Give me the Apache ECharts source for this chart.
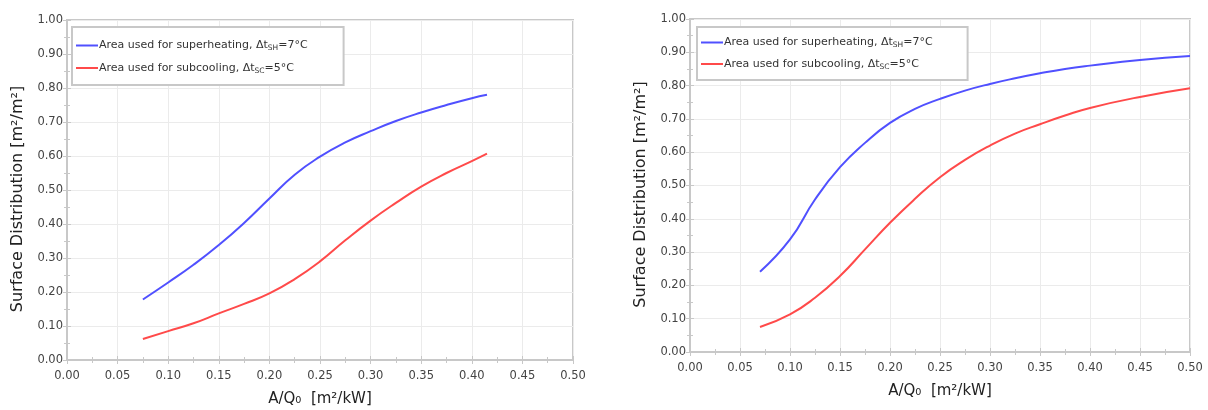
<!DOCTYPE html>
<html>
<head>
<meta charset="utf-8">
<script src="https://cdn.jsdelivr.net/npm/echarts@6/dist/echarts.min.js"></script>
<style>
  html, body { margin: 0; padding: 0; background: #fff; }
  #main { width: 1208px; height: 410px; }
</style>
</head>
<body>
<div id="main"></div>
<script>
// left chart
const xLeft = [0.075, 0.10, 0.125, 0.15, 0.175, 0.20, 0.225, 0.25, 0.275, 0.30, 0.325, 0.35, 0.375, 0.40, 0.415]
const shLeft = [0.178, 0.228, 0.280, 0.338, 0.403, 0.475, 0.545, 0.598, 0.640, 0.673, 0.703, 0.728, 0.750, 0.770, 0.780]
const scLeft = [0.062, 0.085, 0.108, 0.137, 0.165, 0.196, 0.238, 0.290, 0.352, 0.410, 0.462, 0.510, 0.550, 0.585, 0.607]

// right chart
const xRight = [0.07, 0.10, 0.125, 0.15, 0.175, 0.20, 0.225, 0.25, 0.275, 0.30, 0.325, 0.35, 0.375, 0.40, 0.45, 0.50]
const shRight = [0.241, 0.338, 0.458, 0.555, 0.628, 0.688, 0.730, 0.760, 0.785, 0.805, 0.822, 0.837, 0.850, 0.860, 0.877, 0.889]
const scRight = [0.075, 0.113, 0.163, 0.228, 0.308, 0.388, 0.460, 0.525, 0.577, 0.620, 0.656, 0.684, 0.710, 0.733, 0.766, 0.792]

const xTicks = [0, 0.05, 0.10, 0.15, 0.20, 0.25, 0.30, 0.35, 0.40, 0.45, 0.50]
const yTicks = [0, 0.1, 0.2, 0.3, 0.4, 0.5, 0.6, 0.7, 0.8, 0.9, 1.0]

const nameSH = 'Area used for superheating, Δt{sub|SH}=7°C'
const nameSC = 'Area used for subcooling, Δt{sub|SC}=5°C'
const blue = '#5050ff'
const red = '#ff4a4a'
const frame = '#c8c8c8'

const font = 'DejaVu Sans, Liberation Sans, sans-serif'

function pairs(xs, ys) {
  return xs.map((x, i) => [x, ys[i]])
}

function tickAxis(gridIndex, ticks, position) {
  // plain frame axis on top / right, ticks only
  return {
    gridIndex: gridIndex,
    type: 'value',
    position: position,
    min: ticks[0], max: ticks[ticks.length - 1], interval: ticks[1] - ticks[0],
    axisLine: { show: true, lineStyle: { color: frame, width: 2 } },
    axisTick: { show: true, inside: true, length: 4, lineStyle: { color: frame } },
    minorTick: { show: true, splitNumber: 2, length: 3, lineStyle: { color: frame } },
    axisLabel: { show: false },
    splitLine: { show: false }
  }
}

function xAxis(gridIndex) {
  return {
    gridIndex: gridIndex,
    type: 'value',
    min: xTicks[0], max: xTicks[xTicks.length - 1], interval: 0.05,
    name: 'A/Q₀  [m²/kW]',
    nameLocation: 'middle',
    nameGap: 32,
    nameTextStyle: { fontFamily: font, fontSize: 15, color: '#222' },
    axisLine: { lineStyle: { color: frame, width: 2 } },
    axisTick: { show: true, inside: true, length: 4, lineStyle: { color: frame } },
    minorTick: { show: true, splitNumber: 2, length: 3, lineStyle: { color: frame } },
    axisLabel: { fontFamily: font, fontSize: 11.5, color: '#444', margin: 10, formatter: v => v.toFixed(2) },
    splitLine: { show: true, lineStyle: { color: '#ebebeb', width: 1 } }
  }
}

function yAxis(gridIndex) {
  return {
    gridIndex: gridIndex,
    type: 'value',
    min: yTicks[0], max: yTicks[yTicks.length - 1], interval: 0.1,
    name: 'Surface Distribution [m²/m²]',
    nameLocation: 'middle',
    nameGap: 41,
    nameTextStyle: { fontFamily: font, fontSize: 16, color: '#222', padding: [0, 18, 0, 0] },
    axisLine: { show: true, lineStyle: { color: frame, width: 2 } },
    axisTick: { show: true, inside: true, length: 4, lineStyle: { color: frame } },
    minorTick: { show: true, splitNumber: 2, length: 3, lineStyle: { color: frame } },
    axisLabel: { fontFamily: font, fontSize: 11.5, color: '#444', margin: 4, formatter: v => v.toFixed(2) },
    splitLine: { show: true, lineStyle: { color: '#ebebeb', width: 1 } }
  }
}

function legend(left, top, names, padding, gap) {
  return {
    left: left, top: top,
    orient: 'vertical',
    data: names,
    icon: 'rect',
    itemWidth: 22, itemHeight: 2,
    itemGap: gap,
    padding: padding,
    borderColor: frame, borderWidth: 2,
    backgroundColor: '#fff',
    textStyle: {
      fontFamily: font, fontSize: 11, color: '#333', padding: [0, 0, 0, -4],
      rich: { sub: { fontFamily: font, fontSize: 7.5, color: '#333', padding: [6, 0, 0, 0] } }
    },
    formatter: n => n.replace(/ #\d$/, '')
  }
}

let myEcharts = echarts.init(document.getElementById('main'))
myEcharts.setOption({
  backgroundColor: '#fff',
  animation: false,
  grid: [
    { left: 67, top: 20, width: 506, height: 340, outerBoundsMode: 'none', show: true, borderColor: frame, borderWidth: 2, backgroundColor: '#fff' },
    { left: 690, top: 19, width: 500, height: 333, outerBoundsMode: 'none', show: true, borderColor: frame, borderWidth: 2, backgroundColor: '#fff' }
  ],
  xAxis: [xAxis(0), xAxis(1), tickAxis(0, xTicks, 'top'), tickAxis(1, xTicks, 'top')],
  yAxis: [yAxis(0), yAxis(1), tickAxis(0, yTicks, 'right'), tickAxis(1, yTicks, 'right')],
  legend: [
    legend(72, 27, [nameSH, nameSC], [13, 36, 10, 4], 10),
    legend(697, 27, [nameSH + ' #2', nameSC + ' #2'], [10, 35, 9, 4], 9)
  ],
  series: [
    { name: nameSH, type: 'line', xAxisIndex: 0, yAxisIndex: 0, smooth: true, symbol: 'none',
      data: pairs(xLeft, shLeft), lineStyle: { color: blue, width: 2 }, itemStyle: { color: blue } },
    { name: nameSC, type: 'line', xAxisIndex: 0, yAxisIndex: 0, smooth: true, symbol: 'none',
      data: pairs(xLeft, scLeft), lineStyle: { color: red, width: 2 }, itemStyle: { color: red } },
    { name: nameSH + ' #2', type: 'line', xAxisIndex: 1, yAxisIndex: 1, smooth: true, symbol: 'none',
      data: pairs(xRight, shRight), lineStyle: { color: blue, width: 2 }, itemStyle: { color: blue } },
    { name: nameSC + ' #2', type: 'line', xAxisIndex: 1, yAxisIndex: 1, smooth: true, symbol: 'none',
      data: pairs(xRight, scRight), lineStyle: { color: red, width: 2 }, itemStyle: { color: red } }
  ]
})
</script>
</body>
</html>
